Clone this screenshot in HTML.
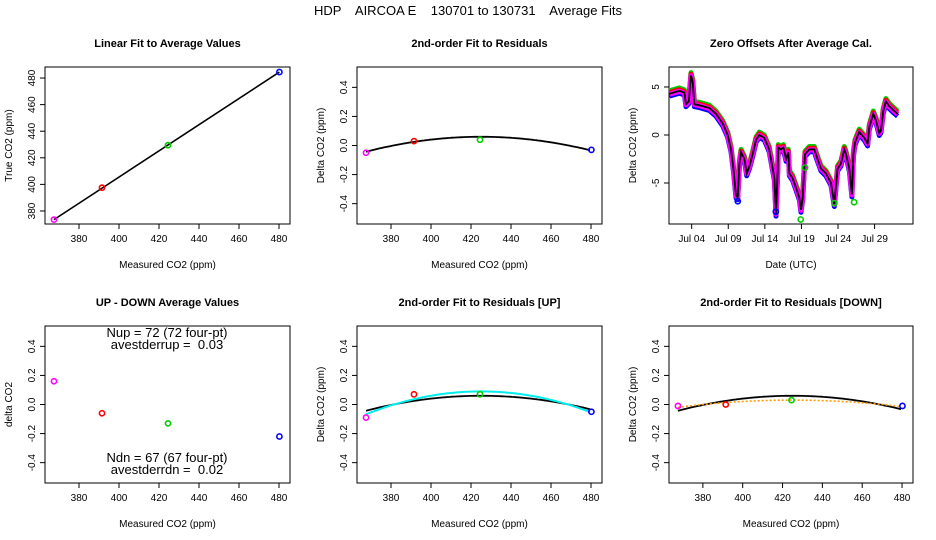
<!DOCTYPE html>
<html><head><meta charset="utf-8"><style>
body{margin:0;background:#fff;}
svg{display:block;font-family:"Liberation Sans",sans-serif;}
text{white-space:pre;}
</style></head><body>
<svg id="c" width="936" height="540" viewBox="0 0 936 540">
<rect width="936" height="540" fill="#fff"/>
<text x="468" y="15" text-anchor="middle" font-size="13" xml:space="preserve">HDP    AIRCOA E    130701 to 130731    Average Fits</text>
</svg>
<script>
// ---- data ----
const measured = [367.5, 391.5, 424.5, 480.2];
const trueVals = [373.5, 397.5, 429.5, 484.5];
const ptColors = ['#f0f','#f00','#0c0','#00f'];
const resid = [-0.05, 0.03, 0.04, -0.03];
const fitAll = [3.12e-5, 425, 0.06];      // a, h, k : k - a(x-h)^2
const fitUp = [4.76e-5, 425, 0.09];
const fitDown = [1.49e-5, 425, 0.03];
const upDown = [0.16, -0.06, -0.13, -0.22];
const residUp = [-0.09, 0.07, 0.07, -0.05];
const residDown = [-0.01, 0.0, 0.03, -0.01];
const tsDays = [0.95,2.32,3.0,3.23,3.6,3.91,4.14,4.37,5.05,6.42,7.33,8.24,8.92,9.38,9.7,10.06,10.29,10.52,10.75,11.2,11.52,11.88,12.34,12.8,13.25,13.93,14.6,15.07,15.3,15.53,15.75,15.84,16.2,16.53,16.9,17.2,17.35,17.8,18.26,18.71,18.94,19.17,19.49,20.08,20.76,21.2,21.67,22.35,23.04,23.5,23.95,24.4,24.86,25.09,25.54,25.9,26.1,26.32,26.9,27.6,28.05,28.28,28.82,29.19,29.64,29.87,30.19,30.55,31.0,31.7,32.15];
const tsVals = [4.3,4.6,4.4,3.2,3.5,6.2,5.5,3.2,3.1,2.8,2.2,1.2,0,-1.5,-3.5,-6.3,-6.5,-3,-1.8,-2.5,-4,-3.3,-2,-0.5,0,-0.3,-1.5,-3.5,-4.5,-8.2,-4,-1.3,-1.5,-1.3,-2.5,-1.8,-4,-4.5,-5.5,-6.5,-7.8,-6.5,-2,-1.5,-1.5,-2.5,-3.5,-4,-5,-7.2,-3.5,-3,-1.5,-2,-3.5,-6.2,-2,-0.8,0.3,-0.3,-0.9,0.8,2.2,1.5,0.2,0.5,2.5,3.5,3,2.5,2.2];
const tsOutDays = [10.3, 15.5, 18.9, 19.5, 23.5, 26.2];
const tsOutVals = [-6.9, -8.0, -8.8, -3.4, -7.1, -7.0];
const co2Ticks = [380,400,420,440,460,480];
const trueTicks = [380,400,420,440,460,480];
const deltaTicks = [-0.4,-0.2,0.0,0.2,0.4];
const zeroTicks = [-5,0,5];
const dateTicks = [4,9,14,19,24,29];
const dateLabels = ['Jul 04','Jul 09','Jul 14','Jul 19','Jul 24','Jul 29'];

const svg = document.getElementById('c');
const NS = 'http://www.w3.org/2000/svg';
function el(tag, attrs, parent){const e=document.createElementNS(NS,tag);for(const k in attrs)e.setAttribute(k,attrs[k]);(parent||svg).appendChild(e);return e;}
function txt(s, attrs, parent){const e=el('text',attrs,parent);e.textContent=s;return e;}
function lin(d0,d1,r0,r1){return v=>r0+(v-d0)*(r1-r0)/(d1-d0);}

function panel(name,x0,x1,y0,y1,xd,yd,title,xlab,ylab,xt,xtl,yt,ytl){
  const g=el('g',{});
  
  
  const X=lin(xd[0],xd[1],x0,x1), Y=lin(yd[0],yd[1],y1,y0);
  const f=el('rect',{x:x0,y:y0,width:x1-x0,height:y1-y0,fill:'none',stroke:'#000','stroke-width':1},g);
  
  
  const t=txt(title,{x:(x0+x1)/2,y:y0-20,'text-anchor':'middle','font-size':11,'font-weight':'bold'},g);
  
  
  const xl=txt(xlab,{x:(x0+x1)/2,y:y1+44,'text-anchor':'middle','font-size':10},g);
  
  
  const cy=(y0+y1)/2;
  const yl=txt(ylab,{x:x0-33,y:cy,'text-anchor':'middle','font-size':10,transform:`rotate(-90 ${x0-33} ${cy})`},g);
  
  
  xt.forEach((v,i)=>{const px=X(v);el('line',{x1:px,x2:px,y1:y1,y2:y1+5,stroke:'#000'},g);
    const l=txt(xtl[i],{x:px,y:y1+18,'text-anchor':'middle','font-size':10},g);
    
    });
  yt.forEach((v,i)=>{const py=Y(v);el('line',{x1:x0-5,x2:x0,y1:py,y2:py,stroke:'#000'},g);
    const l=txt(ytl[i],{x:x0-10,y:py,'text-anchor':'middle','font-size':10,transform:`rotate(-90 ${x0-10} ${py})`},g);
    
    });
  return {g,X,Y};
}
function pts(p,xs,ys,cols){xs.forEach((v,i)=>{const c=el('circle',{cx:p.X(v),cy:p.Y(ys[i]),r:2.6,fill:'none',stroke:cols[i],'stroke-width':1.6},p.g);
  
  });}
function curve(p,fit,a,b,col,w,dash){let d='';for(let x=a;x<=b+0.01;x+=1){const y=fit[2]-fit[0]*(x-fit[1])**2;d+=(d?'L':'M')+p.X(x).toFixed(1)+','+p.Y(y).toFixed(1);}
  const c=el('path',{d,fill:'none',stroke:col,'stroke-width':w},p.g);if(dash)c.setAttribute('stroke-dasharray',dash);
  
  }
const xd=[363,485.5], dd=[-0.54,0.54];
const ctl=co2Ticks.map(String), dtl=deltaTicks.map(v=>v.toFixed(1));
const yT=67,yB=224,bT=326,bB=483;

// Panel 1
const p1=panel('linear-fit-panel',45,290,yT,yB,xd,[370.2,488.3],'Linear Fit to Average Values','Measured CO2 (ppm)','True CO2 (ppm)',co2Ticks,ctl,trueTicks,trueTicks.map(String));
const fl=el('line',{x1:p1.X(measured[0]),y1:p1.Y(trueVals[0]),x2:p1.X(measured[3]),y2:p1.Y(trueVals[3]),stroke:'#000','stroke-width':1.6},p1.g);


pts(p1,measured,trueVals,ptColors);

// Panel 2
const p2=panel('residual-fit-panel',357,602,yT,yB,xd,dd,'2nd-order Fit to Residuals','Measured CO2 (ppm)','Delta CO2 (ppm)',co2Ticks,ctl,deltaTicks,dtl);
curve(p2,fitAll,measured[0],measured[3],'#000',1.8);
pts(p2,measured,resid,ptColors);

// Panel 3
const p3=panel('zero-offsets-panel',669,913,yT,yB,[0.9,34.25],[-9.27,7.08],'Zero Offsets After Average Cal.','Date (UTC)','Delta CO2 (ppm)',dateTicks,dateLabels,zeroTicks,zeroTicks.map(String));
function tsPath(off){return tsDays.map((d,i)=>(i?'L':'M')+p3.X(d).toFixed(1)+','+p3.Y(tsVals[i]+off).toFixed(1)).join('');}
[['#00f',-0.25],['#0c0',0.3],['#f00',0.12],['#f0f',-0.05]].forEach(([c,o])=>{const b=el('path',{d:tsPath(o),fill:'none',stroke:c,'stroke-width':5,'stroke-linejoin':'round'},p3.g);
  
  });
const tl=el('path',{d:tsPath(0),fill:'none',stroke:'#000','stroke-width':1.8},p3.g);


pts(p3,tsOutDays,tsOutVals,['#00f','#00f','#0c0','#0c0','#0c0','#0c0']);

// Panel 4
const p4=panel('up-down-panel',45,290,bT,bB,xd,dd,'UP - DOWN Average Values','Measured CO2 (ppm)','delta CO2',co2Ticks,ctl,deltaTicks,dtl);
pts(p4,measured,upDown,ptColors);
[['Nup = 72 (72 four-pt)',337],['avestderrup =  0.03',349],['Ndn = 67 (67 four-pt)',462],['avestderrdn =  0.02',474]].forEach(([s,y])=>{
  const a=txt(s,{x:167,y:y,'text-anchor':'middle','font-size':13,'xml:space':'preserve'},p4.g);
  
  });

// Panel 5
const p5=panel('residual-fit-up-panel',357,602,bT,bB,xd,dd,'2nd-order Fit to Residuals [UP]','Measured CO2 (ppm)','Delta CO2 (ppm)',co2Ticks,ctl,deltaTicks,dtl);
curve(p5,fitAll,measured[0],measured[3],'#000',1.8);
curve(p5,fitUp,measured[0],measured[3],'#0ee',2);
pts(p5,measured,residUp,ptColors);

// Panel 6
const p6=panel('residual-fit-down-panel',669,913,bT,bB,xd,dd,'2nd-order Fit to Residuals [DOWN]','Measured CO2 (ppm)','Delta CO2 (ppm)',co2Ticks,ctl,deltaTicks,dtl);
curve(p6,fitAll,measured[0],measured[3],'#000',1.8);
curve(p6,fitDown,measured[0],measured[3],'#f90',1.6,'2,2');
pts(p6,measured,residDown,ptColors);
</script>
</body></html>
